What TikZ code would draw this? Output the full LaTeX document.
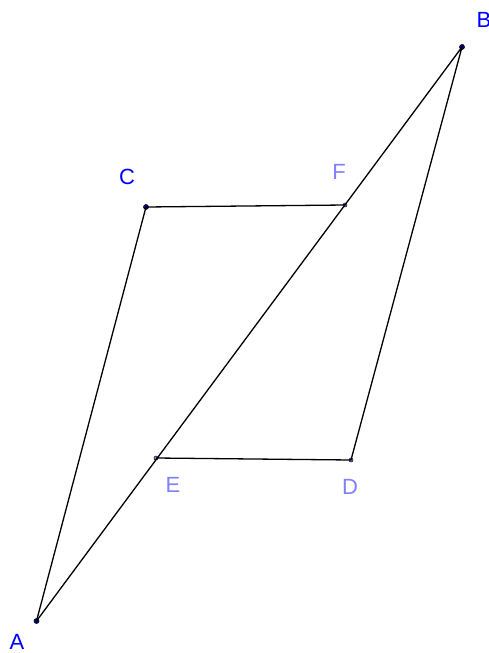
\documentclass[tikz,border=0pt]{standalone}
\usepackage{fontspec}
\setmainfont{Liberation Sans}
\begin{document}
\begin{tikzpicture}[x=1pt, y=-1pt, line width=1.3pt, font=\fontsize{22}{22}\selectfont,
  pt/.style={circle, draw=black, fill=blue!60!black, line width=0.6pt, inner sep=0pt, minimum size=5pt},
  ptlight/.style={circle, draw=black, fill=blue!50, line width=0.5pt, inner sep=0pt, minimum size=4pt},
  lbl/.style={text=blue},
  lbllight/.style={text=blue!50}]
  \useasboundingbox (0,0) rectangle (488,653);
  % points
  \node[pt] (A) at (36.5,621) {};
  \node[pt] (B) at (462,47) {};
  \node[pt] (C) at (146,207) {};
  \node[ptlight] (F) at (345,205) {};
  \node[ptlight] (E) at (156,458) {};
  \node[ptlight] (D) at (351,460) {};
  % sides
  \draw (A.center) -- (C.center) -- (F.center);
  \draw (A.center) -- (B.center) -- (D.center) -- (E.center);
  % labels
  \node[lbl] at (17,642) {A};
  \node[lbl] at (484,20) {B};
  \node[lbl] at (127,177) {C};
  \node[lbllight] at (339,172) {F};
  \node[lbllight] at (173,485) {E};
  \node[lbllight] at (350,487) {D};
\end{tikzpicture}
\end{document}
